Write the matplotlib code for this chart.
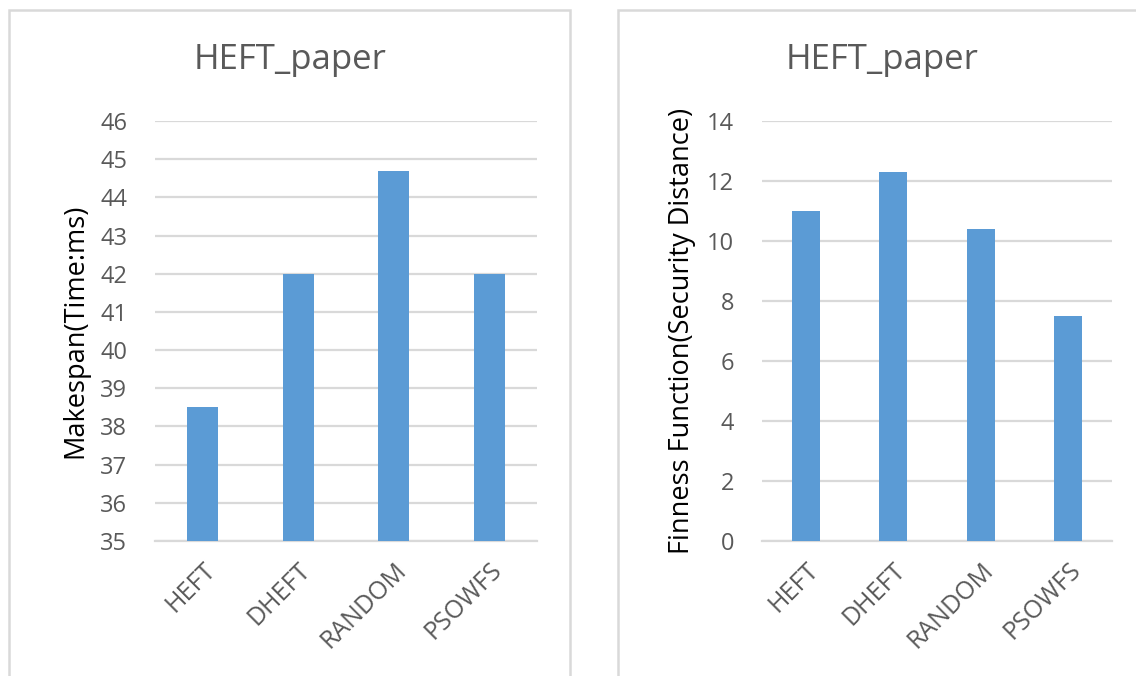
import matplotlib
matplotlib.use("Agg")
import matplotlib.pyplot as plt
from matplotlib.patches import Rectangle

# Data
algorithms = ["HEFT", "DHEFT", "RANDOM", "PSOWFS"]
makespan = [38.5, 42.0, 44.7, 42.0]
fitness = [11.0, 12.3, 10.4, 7.5]

chart_title = "HEFT_paper"
makespan_label = "Makespan(Time:ms)"
fitness_label = "Finness Function(Security Distance)"
makespan_ticks = list(range(35, 47))
fitness_ticks = list(range(0, 15, 2))

BAR = "#5b9bd5"
GRID = "#d9d9d9"
TEXT = "#595959"
FONT = "Open Sans"

W, H = 1136, 676
fig = plt.figure(figsize=(W / 100, H / 100), dpi=100)
fig.patch.set_facecolor("white")


def px_rect(x0, y0, x1, y1):
    return [x0 / W, 1 - y1 / H, (x1 - x0) / W, (y1 - y0) / H]


# chart frames
for (x0, y0, x1, y1) in [(9, 10, 570, 690), (618, 10, 1150, 690)]:
    fig.patches.append(Rectangle((x0 / W, 1 - y1 / H), (x1 - x0) / W, (y1 - y0) / H,
                                 transform=fig.transFigure, fill=False,
                                 edgecolor=GRID, linewidth=1.8, zorder=0))


def draw(rect, values, ticks, ylabel, title_x):
    ax = fig.add_axes(px_rect(*rect))
    x = range(len(algorithms))
    ax.bar(x, values, width=0.32, color=BAR, zorder=3)
    ax.set_xlim(-0.5, len(algorithms) - 0.5)
    ax.set_ylim(ticks[0], ticks[-1])
    ax.set_yticks(ticks)
    ax.set_yticklabels([str(t) for t in ticks], fontsize=17, color=TEXT, family=FONT)
    ax.set_xticks(list(x))
    ax.set_xticklabels(algorithms, rotation=45, ha="right", rotation_mode="anchor",
                       fontsize=18, color=TEXT, family=FONT)
    ax.tick_params(axis="y", length=0, pad=20)
    ax.tick_params(axis="x", length=0, pad=12)
    ax.yaxis.grid(True, color=GRID, linewidth=1.6, zorder=0)
    ax.set_axisbelow(True)
    for s in ["top", "right", "left"]:
        ax.spines[s].set_visible(False)
    ax.spines["bottom"].set_color(GRID)
    ax.spines["bottom"].set_linewidth(1.6)
    ax.spines["bottom"].set_zorder(1)
    ax.set_ylabel(ylabel, fontsize=19.5, color="black", family=FONT, labelpad=8)
    fig.text(title_x / W, 1 - 60 / H, chart_title, ha="center", va="center",
             fontsize=25, color=TEXT, family=FONT)
    return ax


draw((155, 121, 537, 541), makespan, makespan_ticks, makespan_label, 290)
draw((762, 121, 1112, 541), fitness, fitness_ticks, fitness_label, 882)

fig.savefig("out.png", dpi=100)
